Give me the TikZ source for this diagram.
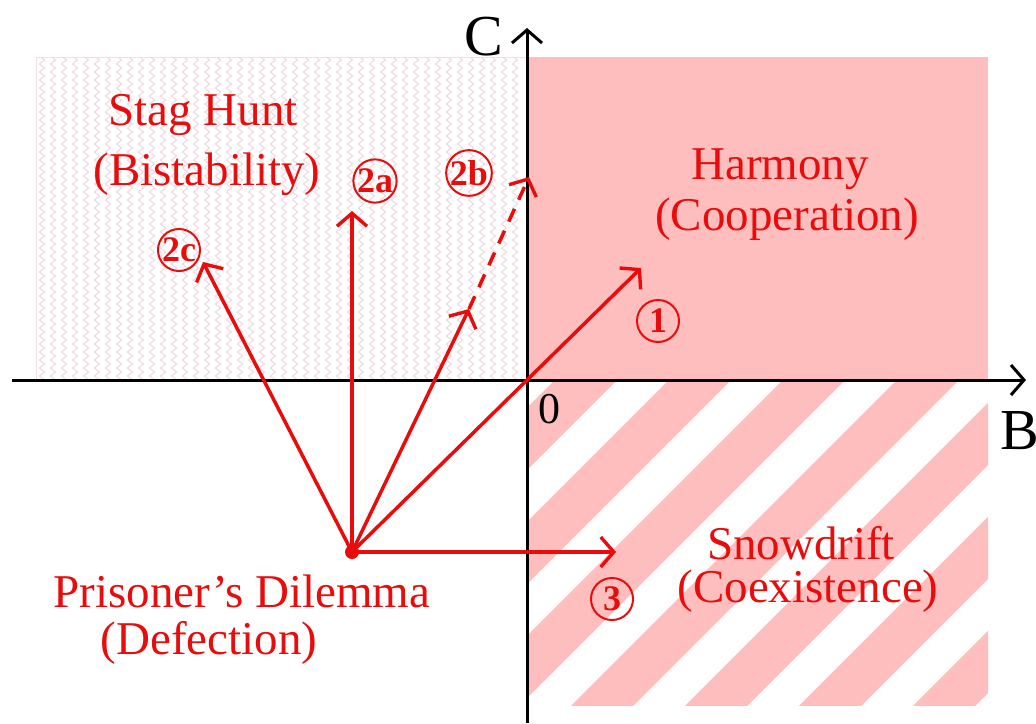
\documentclass[tikz,border=0pt]{standalone}
\usepackage{fontspec}
\setmainfont{Liberation Serif}
\usetikzlibrary{arrows.meta,decorations.pathmorphing}
\definecolor{hpink}{RGB}{255,190,190}
\definecolor{gred}{RGB}{232,12,12}
\definecolor{zzpink}{RGB}{240,222,228}
\begin{document}
\begin{tikzpicture}[x=1pt, y=-1pt,
    vec/.style={gred, line width=3.5pt, -{Straight Barb[length=13pt,width=30pt,line width=3.4pt]}},
    num/.style={circle, draw=gred, line width=2pt, text=gred, font=\bfseries\fontsize{36}{36}\selectfont, inner sep=0pt, minimum size=42pt},
    lbl/.style={text=gred, font=\fontsize{47}{50}\selectfont, inner sep=0pt},
    axis/.style={black, line width=3pt, -{Straight Barb[length=13pt,width=30pt,line width=3pt]}}]
  \useasboundingbox (0,0) rectangle (1036,723);

  % stag hunt region
  \fill[white] (36,57) rectangle (527,380);
  \begin{scope}
    \clip (36,57) rectangle (527,380);
    \foreach \x in {42,53,...,525}
      \draw[zzpink, line width=1.2pt, decorate, decoration={zigzag, segment length=8pt, amplitude=2.5pt}] (\x,50) -- (\x,390);
  \end{scope}
  \draw[zzpink, line width=1pt] (36,57) rectangle (527,380);

  % harmony and snowdrift
  \fill[hpink] (527,57) rectangle (988,380);
  \begin{scope}
    \clip (527,380) rectangle (988,705);
    \foreach \c in {852,966,...,1750}
      \draw[hpink, line width=44pt] (\c-300,300) -- (\c-800,800);
  \end{scope}

  % axes
  \coordinate (xl) at (12,380);
  \coordinate (xr) at (1026,380);
  \coordinate (yb) at (527,723);
  \coordinate (yt) at (527,28);
  \draw[axis] (xl) -- (xr);
  \draw[axis] (yb) -- (yt);
  \node[font=\fontsize{58}{58}\selectfont, inner sep=0pt] (cl) at (484,37) {C};
  \node[font=\fontsize{58}{58}\selectfont, inner sep=0pt] (bl) at (1020,431) {B};
  \node[font=\fontsize{44}{44}\selectfont, inner sep=0pt] (zero) at (549,409) {0};

  % arrows
  \node[circle, fill=gred, inner sep=0pt, minimum size=14pt] (src) at (352,552) {};
  \coordinate (t1) at (641,268);
  \coordinate (t2a) at (352,211);
  \coordinate (t2b) at (469,309);
  \coordinate (t2bb) at (529,177);
  \coordinate (t2c) at (203,262);
  \coordinate (t3) at (616,552);
  \draw[vec] (src.center) -- (t1);
  \draw[vec] (src.center) -- (t2a);
  \draw[vec] (src.center) -- (t2b);
  \draw[vec, dash pattern=on 14pt off 10pt] (t2b) -- (t2bb);
  \draw[vec] (src.center) -- (t2c);
  \draw[vec] (src.center) -- (t3);

  \node[num] (n1) at (658,321) {1};
  \node[num] (n2a) at (375,181) {2a};
  \node[num] (n2b) at (469,173) {2b};
  \node[num] (n2c) at (179,250) {2c};
  \node[num] (n3) at (612,599) {3};

  % labels
  \node[lbl] (sh) at (203,115) {Stag Hunt};
  \node[lbl] (shs) at (207,174) {(Bistability)};
  \node[lbl] (hm) at (780,169) {Harmony};
  \node[lbl] (hms) at (787,219) {(Cooperation)};
  \node[lbl] (sd) at (801,543) {Snowdrift};
  \node[lbl] (sds) at (808,591) {(Coexistence)};
  \node[lbl] (pd) at (242,591) {Prisoner’s Dilemma};
  \node[lbl] (pds) at (209,643) {(Defection)};
\end{tikzpicture}
\end{document}
